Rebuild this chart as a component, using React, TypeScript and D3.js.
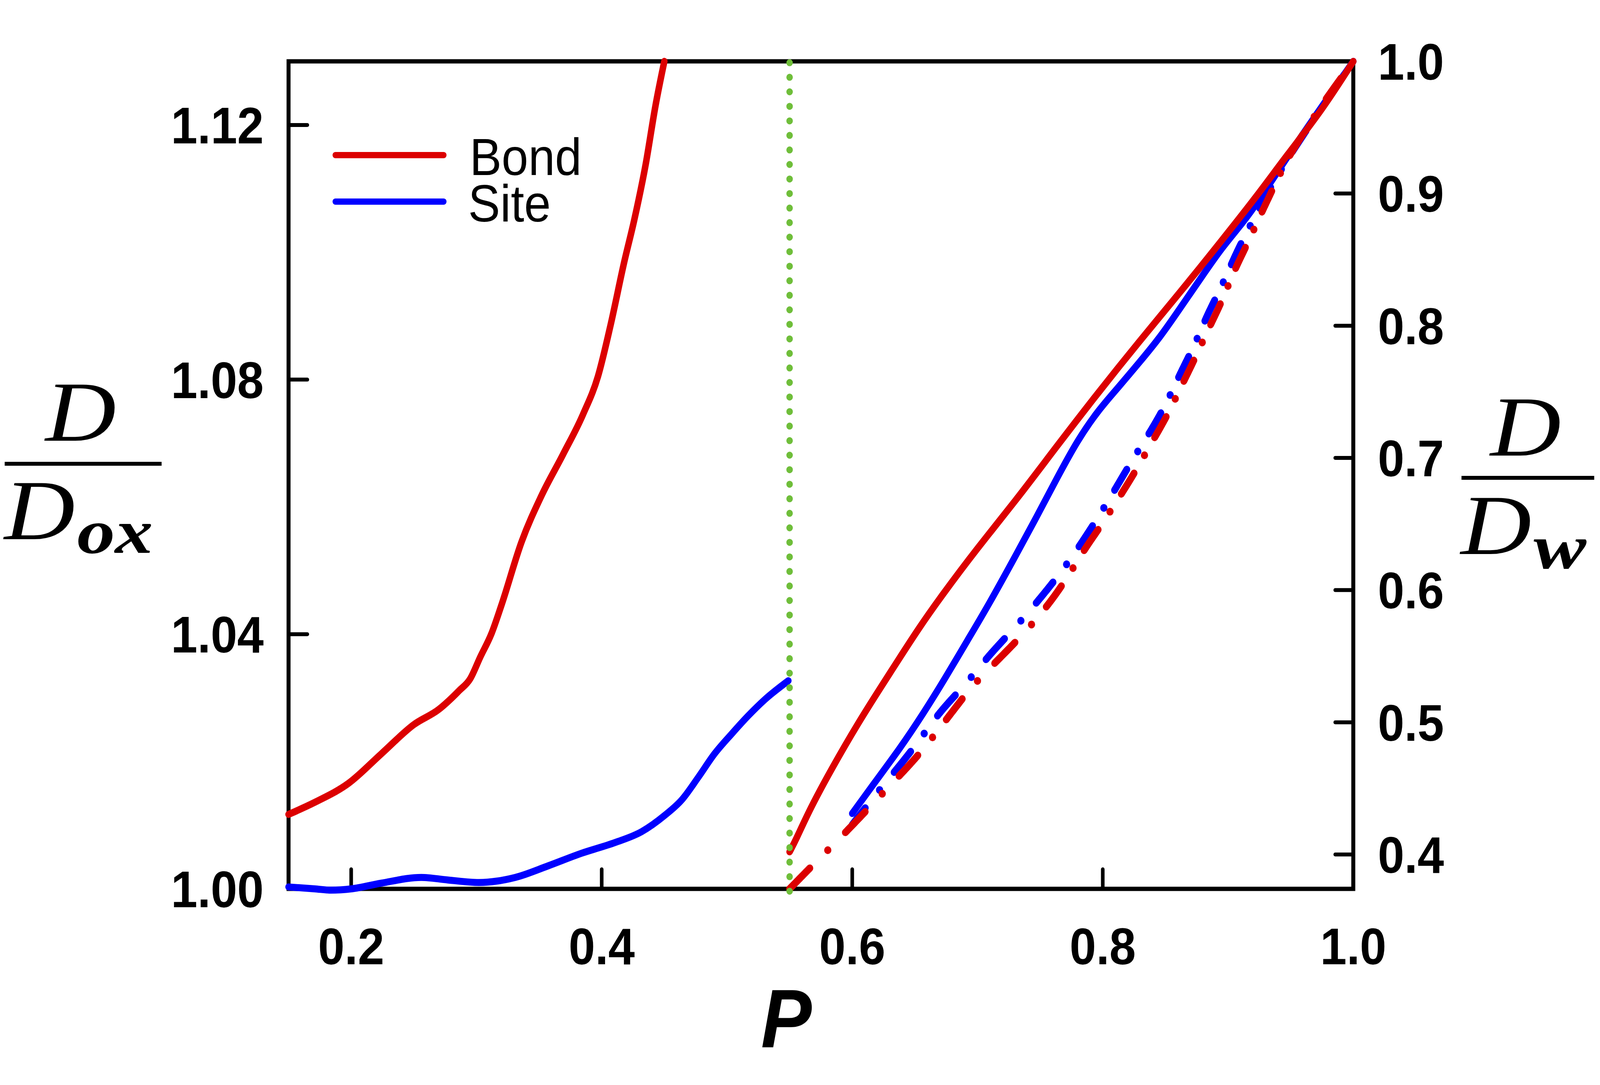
import React from 'react';
import * as d3 from 'd3';

// ---------- data ----------
// left panel: D/Dox vs P (0.15 - 0.55)
const bondLeftP = [0.150, 0.171, 0.198, 0.224, 0.250, 0.270, 0.286, 0.295, 0.303, 0.312, 0.320, 0.336, 0.352, 0.369, 0.385, 0.397, 0.407, 0.418, 0.426, 0.435, 0.443, 0.450];
const bondLeftV = [1.0117, 1.0136, 1.0166, 1.0212, 1.0258, 1.0282, 1.0311, 1.0330, 1.0364, 1.0401, 1.0446, 1.0545, 1.0618, 1.0682, 1.0745, 1.0805, 1.0885, 1.0985, 1.1051, 1.1137, 1.1231, 1.1300];

const siteLeftP = [0.150, 0.171, 0.184, 0.200, 0.224, 0.256, 0.277, 0.302, 0.331, 0.357, 0.384, 0.411, 0.432, 0.450, 0.464, 0.477, 0.490, 0.504, 0.517, 0.530, 0.549];
const siteLeftV = [1.0003, 1.0000, 0.9998, 1.0000, 1.0009, 1.0018, 1.0014, 1.0010, 1.0018, 1.0036, 1.0056, 1.0073, 1.0090, 1.0115, 1.0140, 1.0175, 1.0212, 1.0244, 1.0272, 1.0297, 1.0327];

// right panel: D/Dw vs P (0.55 - 1.0), solid
const bondRightP = [0.550, 0.555, 0.566, 0.583, 0.605, 0.6245, 0.636, 0.653, 0.670, 0.700, 0.730, 0.763, 0.796, 0.829, 0.862, 0.895, 0.923, 0.947, 0.975, 1.000];
const bondRightV = [0.402, 0.411, 0.434, 0.464, 0.500, 0.529, 0.546, 0.571, 0.594, 0.632, 0.667, 0.7085, 0.749, 0.788, 0.8255, 0.8645, 0.898, 0.929, 0.963, 1.000];

const siteRightP = [0.600, 0.616, 0.638, 0.657, 0.674, 0.692, 0.709, 0.731, 0.747, 0.763, 0.780, 0.796, 0.813, 0.829, 0.846, 0.862, 0.879, 0.895, 0.912, 0.925, 0.950, 1.000];
const siteRightV = [0.431, 0.452, 0.480, 0.507, 0.533, 0.562, 0.589, 0.627, 0.655, 0.684, 0.7136, 0.7356, 0.754, 0.772, 0.7915, 0.8136, 0.837, 0.859, 0.878, 0.895, 0.932, 1.000];

// right panel: dash-dot
const bondDashP = [0.550, 0.570, 0.592, 0.612, 0.633, 0.653, 0.671, 0.688, 0.698, 0.730, 0.750, 0.768, 0.786, 0.796, 0.811, 0.825, 0.838, 0.851, 0.862, 0.873, 0.884, 0.895, 0.904, 0.915, 0.925, 0.936, 0.947, 0.962, 0.976, 1.000];
const bondDashV = [0.374, 0.3935, 0.414, 0.434, 0.455, 0.475, 0.497, 0.518, 0.530, 0.560, 0.581, 0.6035, 0.632, 0.645, 0.667, 0.688, 0.710, 0.731, 0.753, 0.774, 0.797, 0.818, 0.840, 0.861, 0.882, 0.904, 0.926, 0.948, 0.969, 1.000];

const siteDashP = [0.600, 0.618, 0.636, 0.654, 0.670, 0.691, 0.709, 0.730, 0.7495, 0.768, 0.783, 0.798, 0.811, 0.825, 0.839, 0.852, 0.862, 0.874, 0.883, 0.895, 0.9045, 0.916, 0.922, 0.940, 1.000];
const siteDashV = [0.4225, 0.4446, 0.465, 0.4866, 0.5084, 0.529, 0.5507, 0.5716, 0.593, 0.615, 0.6355, 0.6576, 0.678, 0.7008, 0.7212, 0.7433, 0.7644, 0.7865, 0.8077, 0.8297, 0.8509, 0.873, 0.8828, 0.917, 1.000];

const criticalP = 0.55;

const xTicks = [0.2, 0.4, 0.6, 0.8, 1.0];
const xTickLabels = ['0.2', '0.4', '0.6', '0.8', '1.0'];
const leftTicks = [1.00, 1.04, 1.08, 1.12];
const leftTickLabels = ['1.00', '1.04', '1.08', '1.12'];
const rightTicks = [0.4, 0.5, 0.6, 0.7, 0.8, 0.9, 1.0];
const rightTickLabels = ['0.4', '0.5', '0.6', '0.7', '0.8', '0.9', '1.0'];

const legendNames = ['Bond', 'Site'];

// ---------- layout ----------
const W = 4436;
const H = 2777;
const X0 = 800, X1 = 3752, Y0 = 157, Y1 = 2275;
const RED = '#dc0000';
const BLUE = '#0000ff';
const GREEN = '#6fbe3a';
const SANS = '"Liberation Sans", Arial, Helvetica, sans-serif';
const SERIF = '"Liberation Serif", "Times New Roman", serif';
const LW = 18;

const x = d3.scaleLinear().domain([0.15, 1.0]).range([X0, X1]);
const yL = d3.scaleLinear().domain([1.0, 1.13]).range([Y1, Y0]);
const yR = d3.scaleLinear().domain([0.374, 1.0]).range([Y1, Y0]);

type Pt = [number, number];
const toPts = (ps: number[], vs: number[], y: d3.ScaleLinear<number, number>): Pt[] =>
  ps.map((p, i) => [x(p), y(vs[i])] as Pt);

const monoLine = d3.line<Pt>().curve(d3.curveMonotoneX);
const smoothLine = d3.line<Pt>().curve(d3.curveBasis);

function sampleCurve(pts: Pt[]): Pt[] {
  const out: Pt[] = [];
  let cx = 0, cy = 0;
  const ctx: any = {
    moveTo(a: number, b: number) { out.push([a, b]); cx = a; cy = b; },
    lineTo(a: number, b: number) { out.push([a, b]); cx = a; cy = b; },
    bezierCurveTo(x1: number, y1: number, x2: number, y2: number, x3: number, y3: number) {
      const n = 30;
      for (let i = 1; i <= n; i++) {
        const t = i / n, m = 1 - t;
        out.push([
          m * m * m * cx + 3 * m * m * t * x1 + 3 * m * t * t * x2 + t * t * t * x3,
          m * m * m * cy + 3 * m * m * t * y1 + 3 * m * t * t * y2 + t * t * t * y3,
        ]);
      }
      cx = x3; cy = y3;
    },
    closePath() {}, quadraticCurveTo() {}, arc() {}, rect() {},
  };
  d3.line<Pt>().curve(d3.curveBasis).context(ctx)(pts);
  return out;
}

// dash-dot pattern repeating in vertical travel
function dashDot(pts: Pt[], period: number, dash: number, dotAt: number, phase: number) {
  const s = sampleCurve(pts);
  const cum = [0];
  for (let i = 1; i < s.length; i++) cum.push(cum[i - 1] + Math.abs(s[i][1] - s[i - 1][1]));
  const total = cum[cum.length - 1];
  const at = (v: number): Pt => {
    for (let i = 1; i < s.length; i++) {
      if (cum[i] >= v) {
        const seg = cum[i] - cum[i - 1];
        const t = seg > 0 ? (v - cum[i - 1]) / seg : 0;
        return [s[i - 1][0] + t * (s[i][0] - s[i - 1][0]), s[i - 1][1] + t * (s[i][1] - s[i - 1][1])];
      }
    }
    return s[s.length - 1];
  };
  const dashes: Pt[][] = [];
  const dots: Pt[] = [];
  for (let k = 0; ; k++) {
    const a = k * period - phase;
    if (a > total) break;
    const s0 = Math.max(a, 0), s1 = Math.min(a + dash, total);
    if (s1 > s0) {
      const seg: Pt[] = [at(s0)];
      for (let i = 0; i < s.length; i++) if (cum[i] > s0 && cum[i] < s1) seg.push(s[i]);
      seg.push(at(s1));
      dashes.push(seg);
    }
    const d = a + dotAt;
    if (d >= 0 && d <= total) dots.push(at(d));
  }
  return { dashes, dots };
}

const plainLine = d3.line<Pt>();

export default function App() {
  const bondLeft = toPts(bondLeftP, bondLeftV, yL);
  const siteLeft = toPts(siteLeftP, siteLeftV, yL);
  const bondRight = toPts(bondRightP, bondRightV, yR);
  const siteRight = toPts(siteRightP, siteRightV, yR);
  const bondDash = dashDot(toPts(bondDashP, bondDashV, yR), 144.4, 53, 99, 0);
  const siteDash = dashDot(toPts(siteDashP, siteDashV, yR), 144.4, 53, 99, 10);
  const xc = x(criticalP);

  const renderDD = (dd: { dashes: Pt[][]; dots: Pt[] }, color: string, key: string) => (
    <g key={key}>
      {dd.dashes.map((seg, i) => (
        <path key={'d' + i} d={plainLine(seg) || ''} fill="none" stroke={color} strokeWidth={LW + 1}
          strokeLinecap="round" strokeLinejoin="round" />
      ))}
      {dd.dots.map((p, i) => (
        <circle key={'o' + i} cx={p[0]} cy={p[1]} r={10} fill={color} />
      ))}
    </g>
  );

  return (
    <svg viewBox={`0 0 ${W} ${H}`} preserveAspectRatio="none"
      style={{ position: 'fixed', left: 0, top: 0, width: '100vw', height: '100vh', display: 'block', background: '#fff' }}>
      <rect x={0} y={0} width={W} height={H} fill="#fff" />
      {/* frame */}
      <rect x={X0} y={Y0} width={X1 - X0} height={Y1 - Y0} fill="none" stroke="#000" strokeWidth={11} />
      {/* ticks */}
      {xTicks.map((t, i) => (
        <g key={'xt' + i}>
          <line x1={x(t)} x2={x(t)} y1={Y1} y2={Y1 - 50} stroke="#000" strokeWidth={10} strokeLinecap="round" />
          <text x={x(t)} y={2468} textAnchor="middle" fontFamily={SANS} fontWeight="bold" fontSize={132}>{xTickLabels[i]}</text>
        </g>
      ))}
      {leftTicks.map((t, i) => (
        <g key={'lt' + i}>
          <line x1={X0} x2={X0 + 52} y1={yL(t)} y2={yL(t)} stroke="#000" strokeWidth={10} strokeLinecap="round" />
          <text x={731} y={yL(t) + 47} textAnchor="end" fontFamily={SANS} fontWeight="bold" fontSize={132}>{leftTickLabels[i]}</text>
        </g>
      ))}
      {rightTicks.map((t, i) => (
        <g key={'rt' + i}>
          <line x1={X1} x2={X1 - 50} y1={yR(t)} y2={yR(t)} stroke="#000" strokeWidth={10} strokeLinecap="round" />
          <text x={3820} y={yR(t) + 47} textAnchor="start" fontFamily={SANS} fontWeight="bold" fontSize={132}>{rightTickLabels[i]}</text>
        </g>
      ))}

      {/* curves */}
      <path d={monoLine(siteLeft) || ''} fill="none" stroke={BLUE} strokeWidth={LW} strokeLinecap="round" strokeLinejoin="round" />
      <path d={monoLine(bondLeft) || ''} fill="none" stroke={RED} strokeWidth={LW} strokeLinecap="round" strokeLinejoin="round" />
      {renderDD(siteDash, BLUE, 'sd')}
      <path d={smoothLine(siteRight) || ''} fill="none" stroke={BLUE} strokeWidth={LW} strokeLinecap="round" strokeLinejoin="round" />
      {renderDD(bondDash, RED, 'bd')}
      <path d={smoothLine(bondRight) || ''} fill="none" stroke={RED} strokeWidth={LW} strokeLinecap="round" strokeLinejoin="round" />

      {/* critical line */}
      <line x1={xc} x2={xc} y1={2281} y2={158} stroke={GREEN} strokeWidth={18} strokeLinecap="round" strokeDasharray="0 37.2" />

      {/* legend */}
      <line x1={930} x2={1230} y1={397} y2={397} stroke={RED} strokeWidth={16} strokeLinecap="round" />
      <line x1={930} x2={1230} y1={516} y2={516} stroke={BLUE} strokeWidth={16} strokeLinecap="round" />
      <text x={1302} y={448} fontFamily={SANS} fontSize={133}>{legendNames[0]}</text>
      <text x={1298} y={567} fontFamily={SANS} fontSize={133}>{legendNames[1]}</text>

      {/* x label */}
      <text x={2180} y={2680} textAnchor="middle" fontFamily={SANS} fontWeight="bold" fontStyle="italic" fontSize={211}>P</text>

      {/* left y label D / D_ox */}
      <text x={126} y={1128} fontFamily={SERIF} fontStyle="italic" fontSize={219} textLength={196} lengthAdjust="spacingAndGlyphs">D</text>
      <rect x={13} y={1182} width={435} height={10} fill="#000" />
      <text x={12} y={1380} fontFamily={SERIF} fontStyle="italic" fontSize={219} textLength={196} lengthAdjust="spacingAndGlyphs">D</text>
      <text x={214} y={1415} fontFamily={SERIF} fontStyle="italic" fontWeight="bold" fontSize={160} textLength={210} lengthAdjust="spacingAndGlyphs">ox</text>

      {/* right y label D / D_w */}
      <text x={4132} y={1166} fontFamily={SERIF} fontStyle="italic" fontSize={219} textLength={196} lengthAdjust="spacingAndGlyphs">D</text>
      <rect x={4052} y={1218} width={368} height={10} fill="#000" />
      <text x={4050} y={1418} fontFamily={SERIF} fontStyle="italic" fontSize={219} textLength={196} lengthAdjust="spacingAndGlyphs">D</text>
      <text x={4252} y={1454} fontFamily={SERIF} fontStyle="italic" fontWeight="bold" fontSize={160} textLength={146} lengthAdjust="spacingAndGlyphs">w</text>
    </svg>
  );
}
